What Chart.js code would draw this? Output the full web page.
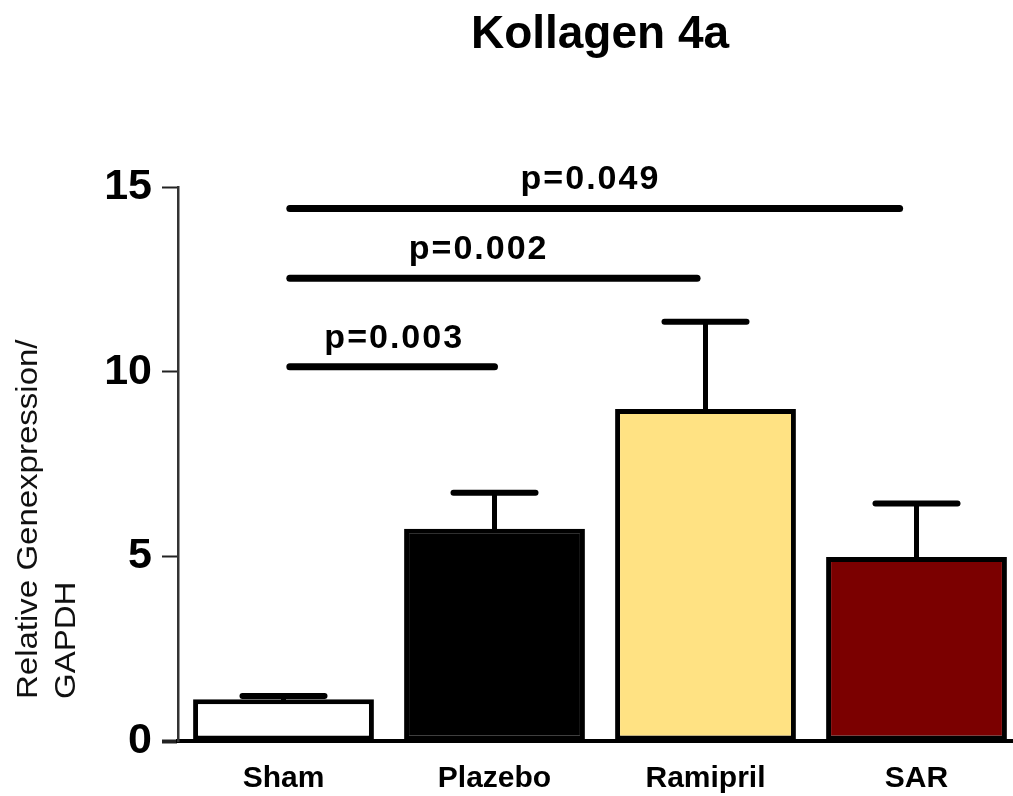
<!DOCTYPE html>
<html>
<head>
<meta charset="utf-8">
<script src="https://cdn.jsdelivr.net/npm/chart.js@4.4.1/dist/chart.umd.min.js"></script>
<style>
    html, body { margin: 0; padding: 0; background: #fff; overflow: hidden; }
    #wrap { width: 1022px; height: 796px; }
</style>
</head>
<body>
<div id="wrap"><canvas id="chart" width="1022" height="796"></canvas></div>
<script>
// Data
const categories = ['Sham', 'Plazebo', 'Ramipril', 'SAR'];
const means = [1.13, 5.75, 8.99, 4.98];
const sem = [0.09, 0.97, 2.36, 1.45];
const barColors = ['#ffffff', '#000000', '#ffe283', '#7b0000'];
const yTicks = [0, 5, 10, 15];

// Significance brackets (category index positions)
const sigLabels = ['p=0.003', 'p=0.002', 'p=0.049'];
const sigLevels = [10.13, 12.53, 14.42];
const sigFrom = [0.03, 0.03, 0.03];
const sigTo = [1.0, 1.96, 2.92];
const sigTextAt = [0.52, 0.92, 1.45];

const chartTitle = 'Kollagen 4a';
const yTitle = ['Relative Genexpression/', 'GAPDH'];

const FONT = "'Liberation Sans', Arial, sans-serif";

// x pixel for a fractional category index
function catPixel(xScale, f) {
    const p0 = xScale.getPixelForValue(0);
    const p1 = xScale.getPixelForValue(1);
    return p0 + f * (p1 - p0);
}

// Error bars (upward only) and significance lines
const overlayPlugin = {
    id: 'overlay',
    afterDatasetsDraw(chart) {
        const ctx = chart.ctx;
        const x = chart.scales.x;
        const y = chart.scales.y;
        const meta = chart.getDatasetMeta(0);

        ctx.save();
        ctx.strokeStyle = '#000';
        ctx.lineCap = 'round';
        meta.data.forEach((bar, i) => {
            const yTop = y.getPixelForValue(means[i]);
            const yErr = y.getPixelForValue(means[i] + sem[i]);
            ctx.lineWidth = 5;
            ctx.beginPath();
            ctx.moveTo(bar.x, yTop);
            ctx.lineTo(bar.x, yErr);
            ctx.stroke();
            ctx.lineWidth = 6;
            ctx.beginPath();
            ctx.moveTo(bar.x - 41, yErr);
            ctx.lineTo(bar.x + 41, yErr);
            ctx.stroke();
        });

        sigLevels.forEach((lvl, i) => {
            const py = y.getPixelForValue(lvl);
            ctx.lineWidth = 7;
            ctx.beginPath();
            ctx.moveTo(catPixel(x, sigFrom[i]), py);
            ctx.lineTo(catPixel(x, sigTo[i]), py);
            ctx.stroke();
            ctx.fillStyle = '#000';
            ctx.font = 'bold 34px ' + FONT;
            ctx.letterSpacing = '2px';
            ctx.textAlign = 'center';
            ctx.textBaseline = 'alphabetic';
            ctx.fillText(sigLabels[i], catPixel(x, sigTextAt[i]) + 1, py - 19);
            ctx.letterSpacing = '0px';
        });
        ctx.restore();
    },
    afterDraw(chart) {
        const ctx = chart.ctx;
        const area = chart.chartArea;
        ctx.save();
        // title
        ctx.fillStyle = '#000';
        ctx.font = 'bold 46px ' + FONT;
        ctx.textAlign = 'center';
        ctx.textBaseline = 'alphabetic';
        ctx.fillText(chartTitle, (area.left + area.right) / 2, 48);

        // y axis title, two lines, start aligned
        ctx.fillStyle = '#111';
        ctx.font = '30px ' + FONT;
        ctx.textAlign = 'left';
        const startY = chart.scales.y.getPixelForValue(0) - 42;
        [37, 75].forEach((bx, i) => {
            ctx.save();
            ctx.translate(bx, startY);
            ctx.rotate(-Math.PI / 2);
            ctx.scale(1.1, 1);
            ctx.fillText(yTitle[i], 0, 0);
            ctx.restore();
        });
        ctx.restore();
    }
};

const chart = new Chart(document.getElementById('chart'), {
    type: 'bar',
    data: {
        labels: categories,
        datasets: [{
            data: means,
            backgroundColor: barColors,
            borderColor: '#000',
            borderWidth: 5,
            borderSkipped: false,
            categoryPercentage: 1.0,
            barPercentage: 0.857
        }]
    },
    options: {
        responsive: false,
        animation: false,
        layout: {
            padding: { top: 187, left: 0, right: 0, bottom: 0 }
        },
        plugins: {
            legend: { display: false },
            tooltip: { enabled: false },
            title: { display: false }
        },
        scales: {
            x: {
                offset: true,
                grid: { display: false, drawTicks: false },
                border: { display: true, color: '#000', width: 4 },
                ticks: {
                    color: '#000',
                    padding: 20,
                    font: { family: FONT, size: 30, weight: 'bold' }
                },
                afterFit: s => { s.height = 55; }
            },
            y: {
                min: 0,
                max: 15,
                grid: {
                    drawOnChartArea: false,
                    drawTicks: true,
                    tickLength: 16,
                    color: '#222',
                    tickWidth: c => (c.tick && c.tick.value === 0 ? 4 : 2)
                },
                border: { display: true, color: '#333', width: 2.5 },
                ticks: {
                    color: '#000',
                    padding: 10,
                    font: { family: FONT, size: 43, weight: 'bold' }
                },
                afterBuildTicks: s => { s.ticks = yTicks.map(v => ({ value: v })); },
                afterFit: s => { s.width = 178; }
            }
        }
    },
    plugins: [overlayPlugin]
});
</script>
</body>
</html>
